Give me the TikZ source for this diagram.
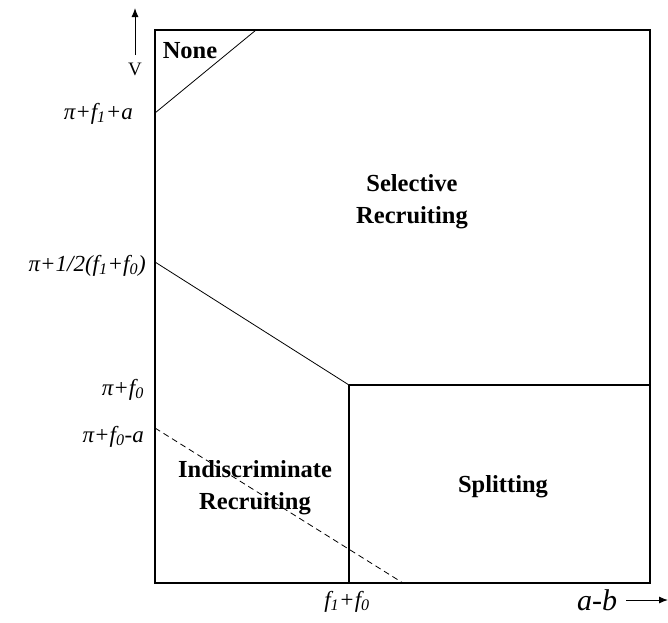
\documentclass[tikz,border=0pt]{standalone}
\usepackage{fontspec}
\setmainfont{Liberation Serif}
\usetikzlibrary{arrows.meta}
\begin{document}
\begin{tikzpicture}[x=1pt,y=-1pt,
  lbl/.style={font=\fontsize{23}{27}\selectfont\itshape, anchor=base east, inner sep=0pt},
  region/.style={font=\fontsize{24.5}{32}\selectfont\bfseries, align=center, inner sep=0pt},
  bline/.style={line width=1.1pt},
  tline/.style={line width=0.8pt},
  axarrow/.style={line width=1pt,-{Latex[length=9pt,width=7pt]}}]
\useasboundingbox (0,0) rectangle (668,622);
% frame corners
\coordinate (tl) at (155,30);
\coordinate (br) at (650,583);
\draw[bline] (tl) rectangle (br);
% boundary points
\coordinate (n1) at (155,113);
\coordinate (n2) at (256,30);
\coordinate (s1) at (155,262);
\coordinate (k) at (349,385);
\coordinate (kr) at (650,385);
\coordinate (kb) at (349,583);
\coordinate (d1) at (155,428);
\coordinate (d2) at (403,583);
\draw[tline] (n1) -- (n2);
\draw[tline] (s1) -- (k);
\draw[bline] (k) -- (kr);
\draw[bline] (k) -- (kb);
\draw[tline, dash pattern=on 6pt off 4pt] (d1) -- (d2);
% axes arrows
\coordinate (va) at (135,55);
\coordinate (vb) at (135,8);
\draw[axarrow] (va) -- (vb);
\node[font=\fontsize{19}{22}\selectfont, inner sep=0pt, anchor=base] (V) at (135,75) {V};
\coordinate (ha) at (626,600);
\coordinate (hb) at (668,600);
\draw[axarrow] (ha) -- (hb);
\node[font=\fontsize{30}{34}\selectfont\itshape, inner sep=0pt, anchor=base] (ab) at (597,610) {a-b};
% axis labels
\node[lbl] (l1) at (133,119) {π+f\textsubscript{1}+a};
\node[lbl] (l2) at (146,271) {π+1/2(f\textsubscript{1}+f\textsubscript{0})};
\node[lbl] (l3) at (144,395) {π+f\textsubscript{0}};
\node[lbl] (l4) at (144,442) {π+f\textsubscript{0}-a};
\node[lbl, anchor=base] (l5) at (347,607) {f\textsubscript{1}+f\textsubscript{0}};
% regions
\node[region, anchor=base] (none) at (190,58) {None};
\node[region] (sel) at (412,202) {Selective\\Recruiting};
\node[region] (ind) at (255,488) {Indiscriminate\\Recruiting};
\node[region] (spl) at (503,487) {Splitting};
\end{tikzpicture}
\end{document}
